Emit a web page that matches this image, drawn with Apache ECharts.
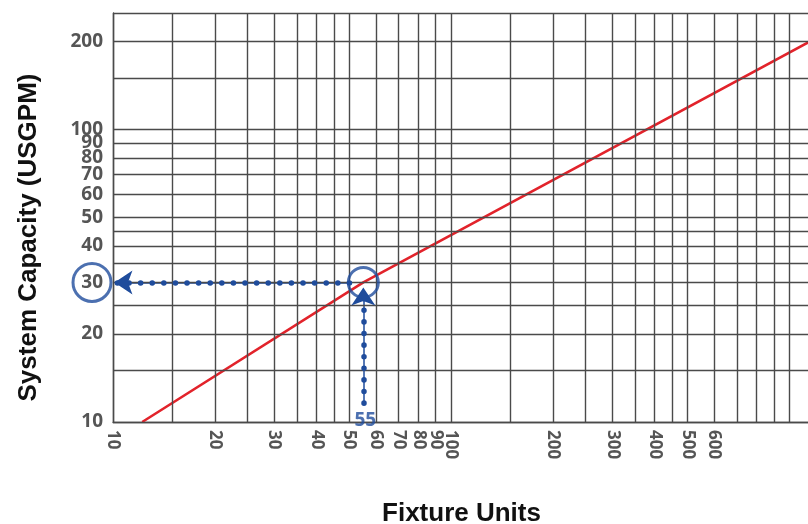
<!DOCTYPE html>
<html lang="en">
<head>
	<meta charset="UTF-8">
	<title>Fixture Units vs System Capacity</title>
	<script src="https://cdn.jsdelivr.net/npm/echarts@6/dist/echarts.min.js"></script>
	<style>
		html,body{margin:0;padding:0;background:#fff;}
		#box{width:808px;height:524px;}
	</style>
</head>
<body>
<div id="box"></div>
<script>
	// log paper grid lines (per decade 1, 1.5, 2 ... 9)
	let xGridValues=[10,15,20,25,30,35,40,45,50,60,70,80,90,100,150,200,250,300,350,400,450,500,600,700,800,900,1000];
	let yGridValues=[10,15,20,25,30,35,40,45,50,60,70,80,90,100,150,200,250];
	let xTickLabels=[10,20,30,40,50,60,70,80,90,100,200,300,400,500,600];
	let yTickLabels=[10,20,30,40,50,60,70,80,90,100,200];
	// red sizing line [fixture units, USGPM]
	let capacityLine=[[12.2,10],[55,30],[1200,205]];
	// worked example: 55 fixture units -> 30 USGPM
	let exampleUnits=55;
	let exampleGpm=30;

	let blue='#1f4c9c';
	let gridColor='#4a4a4a';

	let chart=echarts.init(document.getElementById('box'));

	let gridSeries={
		type:'line',
		data:[],
		silent:true,
		z:1,
		markLine:{
			silent:true,
			symbol:'none',
			label:{show:false},
			lineStyle:{color:gridColor,width:1.4,type:'solid'},
			emphasis:{disabled:true},
			data:xGridValues.map(v=>({xAxis:v})).concat(yGridValues.map(v=>({yAxis:v})))
		}
	};

	let options={
		backgroundColor:'#fff',
		animation:false,
		grid:{left:113,right:-8,top:13,bottom:102,outerBoundsMode:'none',containLabel:false},
		xAxis:{
			type:'log',
			min:10,
			max:1200,
			name:'Fixture Units',
			nameLocation:'middle',
			nameGap:79,
			nameTextStyle:{fontFamily:'Liberation Sans',fontWeight:'bold',fontSize:26,color:'#111',padding:[0,6,0,0]},
			axisLine:{show:true,lineStyle:{color:gridColor,width:1.4}},
			axisTick:{show:false},
			splitLine:{show:false},
			minorTick:{show:false},
			axisLabel:{
				customValues:xTickLabels,
				rotate:-90,
				margin:8,
				fontFamily:'Open Sans',
				fontWeight:700,
				fontSize:17,
				color:'#555'
			}
		},
		yAxis:{
			type:'log',
			min:10,
			max:250,
			name:'System Capacity (USGPM)',
			nameLocation:'middle',
			nameGap:71,
			nameTextStyle:{fontFamily:'Liberation Sans',fontWeight:'bold',fontSize:26,color:'#111',padding:[0,40,0,0]},
			axisLine:{show:true,lineStyle:{color:gridColor,width:1.4}},
			axisTick:{show:false},
			splitLine:{show:false},
			minorTick:{show:false},
			axisLabel:{
				customValues:yTickLabels,
				margin:10,
				fontFamily:'Open Sans',
				fontWeight:700,
				fontSize:19,
				color:'#555'
			}
		},
		series:[
			gridSeries,
			{
				name:'capacity',
				type:'line',
				data:capacityLine,
				symbol:'none',
				z:3,
				lineStyle:{color:'#e2232b',width:2.6}
			},
			// thin connector under the dots
			{
				type:'lines',
				coordinateSystem:'cartesian2d',
				z:4,
				silent:true,
				symbol:'none',
				lineStyle:{color:blue,width:1.5,opacity:1},
				data:[
					{coords:[[exampleUnits*0.91,exampleGpm],[10.6,exampleGpm]]},
					{coords:[[exampleUnits,11.6],[exampleUnits,exampleGpm*0.88]]}
				]
			},
			// dotted leaders with arrow heads
			{
				type:'lines',
				coordinateSystem:'cartesian2d',
				z:5,
				silent:true,
				symbol:['none','arrow'],
				symbolSize:18,
				lineStyle:{color:blue,width:5.5,opacity:1,type:[0.1,11.5],cap:'round'},
				data:[
					{coords:[[exampleUnits*0.91,exampleGpm],[10.1,exampleGpm]]},
					{coords:[[exampleUnits,11.6],[exampleUnits,exampleGpm*0.96]]}
				]
			},
			// circles: on the line and round the "30" label
			{
				type:'scatter',
				z:6,
				silent:true,
				clip:false,
				data:[
					{value:[exampleUnits,exampleGpm],symbolSize:30},
					{value:[10,exampleGpm],symbolSize:38,symbolOffset:[-21,0]}
				],
				itemStyle:{color:'rgba(0,0,0,0)',borderColor:blue,borderWidth:3}
			},
			// "55" under the leader
			{
				type:'scatter',
				z:6,
				silent:true,
				clip:false,
				symbolSize:0,
				data:[[exampleUnits,10]],
				label:{
					show:true,
					position:'inside',
					offset:[2,-1],
					formatter:String(exampleUnits),
					fontFamily:'Open Sans',
					fontWeight:700,
					fontSize:19,
					color:blue
				}
			}
		]
	};
	chart.setOption(options);
</script>
</body>
</html>
